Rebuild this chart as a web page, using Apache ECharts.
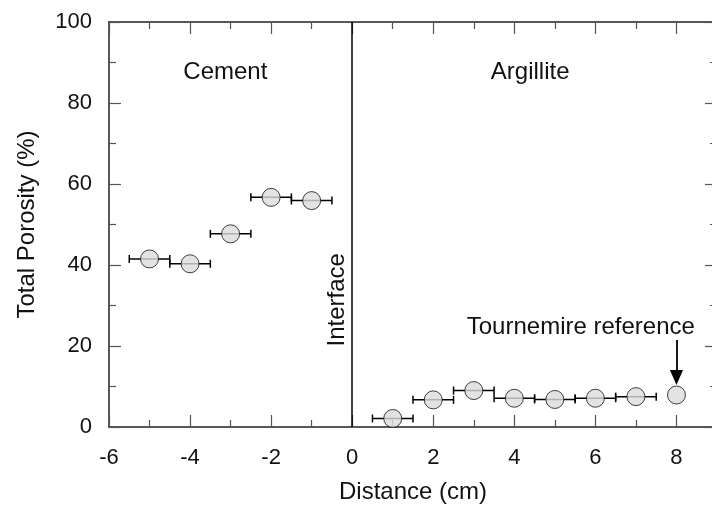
<!DOCTYPE html>
<html>
<head>
<meta charset="utf-8">
<script src="https://cdn.jsdelivr.net/npm/echarts@6/dist/echarts.min.js"></script>
<style>
  html, body { margin: 0; padding: 0; background: #fff; }
  #main { width: 712px; height: 506px; }
</style>
</head>
<body>
<div id="main"></div>
<script>
// data
var cementX = [-5, -4, -3, -2, -1];
var cementY = [41.5, 40.3, 47.7, 56.7, 55.9];
var cementXErr = [0.5, 0.5, 0.5, 0.5, 0.5];

var argilliteX = [1, 2, 3, 4, 5, 6, 7, 8];
var argilliteY = [2.1, 6.7, 9.0, 7.1, 6.8, 7.1, 7.5, 7.9];
var argilliteXErr = [0.5, 0.5, 0.5, 0.5, 0.5, 0.5, 0.5, 0];

var xTicks = [-6, -4, -2, 0, 2, 4, 6, 8];
var yTicks = [0, 20, 40, 60, 80, 100];

var font = '"Liberation Sans", Arial, Helvetica, sans-serif';

var chartDom = document.getElementById('main');
var myChart = echarts.init(chartDom);
var option;

function pts(xs, ys, es) {
  return xs.map(function (x, i) { return [x, ys[i], es[i]]; });
}
var allPts = pts(cementX, cementY, cementXErr).concat(pts(argilliteX, argilliteY, argilliteXErr));

function errBar(params, api) {
  var x = api.value(0), y = api.value(1), e = api.value(2);
  if (!e) return;
  var a = api.coord([x - e, y]);
  var b = api.coord([x + e, y]);
  var c = 4;
  var st = { stroke: '#000', lineWidth: 1.5 };
  return {
    type: 'group',
    children: [
      { type: 'line', shape: { x1: a[0], y1: a[1], x2: b[0], y2: b[1] }, style: st },
      { type: 'line', shape: { x1: a[0], y1: a[1] - c, x2: a[0], y2: a[1] + c }, style: st },
      { type: 'line', shape: { x1: b[0], y1: b[1] - c, x2: b[0], y2: b[1] + c }, style: st }
    ]
  };
}

var axisLine = { show: true, onZero: false, lineStyle: { color: '#222', width: 1.5 } };
var tickStyle = { color: '#555', width: 1.2 };

function axisBase(extra) {
  var a = {
    type: 'value',
    axisLine: axisLine,
    axisTick: { show: true, inside: true, length: 12, lineStyle: tickStyle },
    minorTick: { show: true, splitNumber: 2, length: 7, lineStyle: tickStyle },
    splitLine: { show: false }
  };
  for (var k in extra) a[k] = extra[k];
  return a;
}

option = {
  animation: false,
  backgroundColor: '#fff',
  grid: { left: 109, top: 22, width: 608, height: 405, outerBoundsMode: 'none', containLabel: false },
  xAxis: [
    axisBase({
      min: -6, max: 9, interval: 2, position: 'bottom',
      name: 'Distance (cm)', nameLocation: 'middle', nameGap: 53,
      nameTextStyle: { fontFamily: font, fontSize: 24, color: '#111' },
      axisLabel: {
        margin: 20, fontFamily: font, fontSize: 22, color: '#111',
        showMaxLabel: false,
        formatter: function (v) { return xTicks.indexOf(v) >= 0 ? String(v) : ''; }
      }
    }),
    axisBase({
      min: -6, max: 9, interval: 2, position: 'top',
      axisLabel: { show: false }
    })
  ],
  yAxis: [
    axisBase({
      min: 0, max: 100, interval: 20, position: 'left',
      name: 'Total Porosity (%)', nameLocation: 'middle', nameGap: 70,
      nameTextStyle: { fontFamily: font, fontSize: 24, color: '#111' },
      axisLabel: {
        margin: 17, fontFamily: font, fontSize: 22, color: '#111',
        formatter: function (v) { return yTicks.indexOf(v) >= 0 ? String(v) : ''; }
      }
    }),
    axisBase({
      min: 0, max: 100, interval: 20, position: 'right',
      axisLabel: { show: false }
    })
  ],
  series: [
    {
      name: 'errors',
      type: 'custom',
      renderItem: errBar,
      data: allPts,
      z: 2,
      markLine: {
        silent: true,
        symbol: 'none',
        lineStyle: { color: '#000', width: 1.5, type: 'solid' },
        label: { show: false },
        data: [{ xAxis: 0 }]
      }
    },
    {
      name: 'Cement',
      type: 'scatter',
      data: pts(cementX, cementY, cementXErr),
      symbol: 'circle',
      symbolSize: 18,
      itemStyle: { color: '#dcdcdc', borderColor: '#111', borderWidth: 1 },
      z: 3
    },
    {
      name: 'Argillite',
      type: 'scatter',
      data: pts(argilliteX, argilliteY, argilliteXErr),
      symbol: 'circle',
      symbolSize: 18,
      itemStyle: { color: '#dcdcdc', borderColor: '#111', borderWidth: 1 },
      z: 3,
      markLine: {
        silent: true,
        symbol: ['none', 'triangle'],
        symbolSize: [13, 15],
        symbolRotate: 180,
        lineStyle: { color: '#000', width: 1.8, type: 'solid' },
        label: { show: false },
        data: [[{ coord: [8, 21.5] }, { coord: [8, 12.2] }]]
      }
    }
  ]
};

option && myChart.setOption(option);

// text annotations placed in data coordinates
var notes = [
  { text: 'Cement', at: [-3.13, 87.6], rotate: 0 },
  { text: 'Argillite', at: [4.39, 87.6], rotate: 0 },
  { text: 'Tournemire reference', at: [5.64, 24.5], rotate: 0 },
  { text: 'Interface', at: [-0.36, 31.4], rotate: Math.PI / 2 }
];
myChart.setOption({
  graphic: notes.map(function (n) {
    var p = myChart.convertToPixel({ xAxisIndex: 0, yAxisIndex: 0 }, n.at);
    return {
      type: 'text', x: p[0], y: p[1], rotation: n.rotate, z: 10,
      style: {
        text: n.text, fontFamily: font, fontSize: 24, fill: '#111',
        align: 'center', verticalAlign: 'middle'
      }
    };
  })
});
</script>
</body>
</html>
